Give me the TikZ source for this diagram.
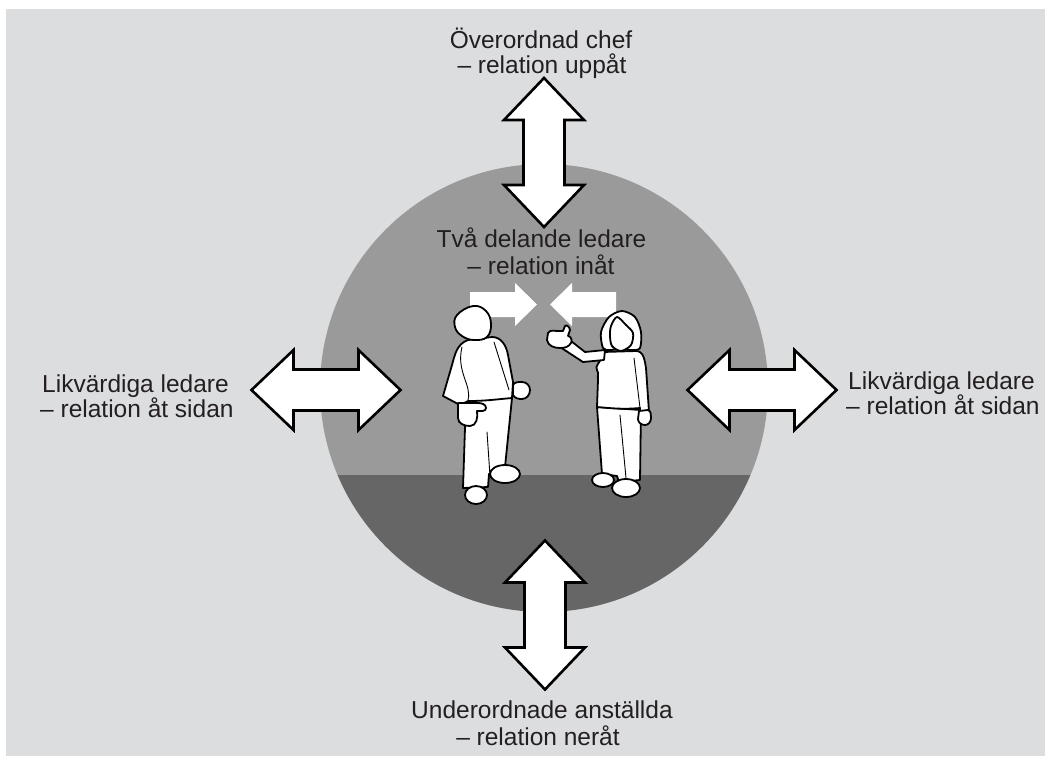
\documentclass[tikz,border=0pt]{standalone}
\usepackage{fontspec}
\setmainfont{Liberation Sans}
\definecolor{bggray}{HTML}{DCDDDF}
\definecolor{upgray}{HTML}{9A9A9A}
\definecolor{lowgray}{HTML}{666666}
\definecolor{txt}{HTML}{231F20}
\tikzset{
  bigarrow/.style={fill=white, draw=black, line width=2.6pt, line join=miter},
  smallarrow/.style={fill=white, draw=none},
  fig/.style={fill=white, draw=black, line width=1.8pt, line join=round, line cap=round},
  figline/.style={draw=black, line width=0.9pt, line cap=round},
  lbl/.style={inner sep=0pt, text=txt, font=\fontsize{24.5}{25}\selectfont},
  dblarrow/.pic={
    \path[bigarrow] (-74.5,0) -- (-32.5,-40) -- (-32.5,-20.5) -- (32.5,-20.5) -- (32.5,-40)
      -- (74.5,0) -- (32.5,40) -- (32.5,20.5) -- (-32.5,20.5) -- (-32.5,40) -- cycle;
  }
}
\begin{document}
\begin{tikzpicture}[x=1pt,y=-1pt]
\useasboundingbox (0,0) rectangle (1045,756);
\fill[white] (0,0) rectangle (1045,756);
\fill[bggray] (6,9) rectangle (1045,756);
% circle
\begin{scope}
  \clip (544,388) circle[radius=224];
  \fill[upgray] (310,150) rectangle (780,475);
  \fill[lowgray] (310,475) rectangle (780,625);
\end{scope}
% big double arrows
\pic[rotate=90] (arrtop) at (544,152.5) {dblarrow};
\pic[rotate=90] (arrbottom) at (545,615) {dblarrow};
\pic (arrleft) at (326,390) {dblarrow};
\pic (arrright) at (762,390) {dblarrow};
% small inner arrows
\path[smallarrow] (470,292) -- (515,292) -- (515,283) -- (537,304.5) -- (515,326) -- (515,317) -- (470,317) -- cycle;
\path[smallarrow] (616,292) -- (572,292) -- (572,283) -- (550,304.5) -- (572,326) -- (572,317) -- (616,317) -- cycle;
% ---- man ----
\path[fig] (466,398) -- (463,488) -- (488,487) -- (489,474) -- (505,467) -- (512,398) -- cycle;
\draw[figline] (487,432) -- (490,476);
\path[fig] (505,474) ellipse[x radius=15, y radius=9];
\path[fig] (476,495) ellipse[x radius=11, y radius=9];
\path[fig] (468,340) -- (492,337) to[out=0,in=100] (508,355) -- (513,382) -- (512,398)
  to[out=185,in=0] (468,401) -- (460,405) -- (443,396) -- (452,365) to[out=75,in=200] (468,340) -- cycle;
\draw[figline] (462,347) .. controls (456,372) and (472,385) .. (468,400);
\draw[figline] (494,342) -- (509,390);
\path[fig] (458,403) -- (478,403) to[out=0,in=90] (486,408) to[out=-90,in=0] (477,411)
  to[out=-80,in=0] (470,426) to[out=180,in=-90] (458,418) -- cycle;
\path[fig] (513,385) to[out=60,in=180] (522,382) to[out=0,in=90] (530,390) to[out=-90,in=0] (522,399)
  to[out=180,in=-60] (513,395) -- cycle;
\path[fig] plot[smooth cycle, tension=0.7] coordinates {(473,306) (486,311) (491,324) (487,337) (474,340) (462,336) (455,327) (457,315)};
% ---- woman ----
\path[fig] (597,407) -- (602,474) -- (617,476) -- (619,482) -- (640,480) -- (641,410) -- cycle;
\draw[figline] (620,415) -- (626,478);
\path[fig] (603,480) ellipse[x radius=11, y radius=7];
\path[fig] (626,488) ellipse[x radius=14, y radius=9];
\path[fig] (603,352) -- (636,351) to[out=0,in=100] (646,368) -- (649,412) -- (640,413) -- (640,408)
  to[out=185,in=-5] (597,407) -- (598,380) to[out=100,in=-60] (597,370) to[out=120,in=-100] (601,358) -- cycle;
\draw[figline] (634,358) -- (640,408);
\path[fig] (571,341) -- (585,352) -- (605,350) -- (604,360) -- (583,362) -- (560,347) -- cycle;
\path[fig] (548,333) to[out=60,in=180] (558,331) -- (563,331) -- (565,326) to[out=60,in=90] (570,330)
  -- (568,336) to[out=0,in=60] (571,343) to[out=-120,in=0] (560,348) to[out=180,in=-80] (547,340) -- cycle;
\path[fig] (639,411) -- (648,410) to[out=-20,in=90] (651,418) to[out=-90,in=0] (645,425)
  to[out=180,in=-90] (638,419) -- cycle;
\path[fig] plot[smooth cycle] coordinates {(603,348) (601,332) (609,317) (622,311) (635,317) (641,332) (640,348) (632,350) (620,349) (610,350)};
\path[fig] plot[smooth cycle] coordinates {(611,326) (617,317) (626,325) (633,333) (631,345) (621,351) (612,346) (610,336)};
% ---- labels ----
\node[lbl, anchor=base] (top1) at (541,48) {Överordnad chef};
\node[lbl, anchor=base] (top2) at (542,73) {– relation uppåt};
\node[lbl, anchor=base] (mid1) at (541.5,247) {Två delande ledare};
\node[lbl, anchor=base] (mid2) at (541,274) {– relation inåt};
\node[lbl, anchor=base west] (left1) at (42,392) {Likvärdiga ledare};
\node[lbl, anchor=base west] (left2) at (40,417) {– relation åt sidan};
\node[lbl, anchor=base west] (right1) at (848,389) {Likvärdiga ledare};
\node[lbl, anchor=base west] (right2) at (846,414) {– relation åt sidan};
\node[lbl, anchor=base] (bot1) at (542,718) {Underordnade anställda};
\node[lbl, anchor=base] (bot2) at (538,745) {– relation neråt};
\end{tikzpicture}
\end{document}
